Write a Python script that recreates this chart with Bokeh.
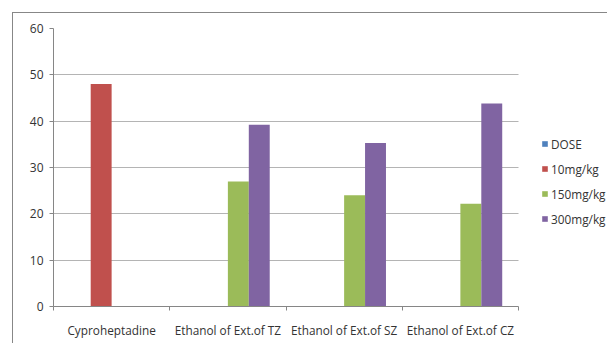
from bokeh.plotting import figure
from bokeh.models import (ColumnDataSource, Range1d, FixedTicker, Legend, LegendItem)
from bokeh.transform import dodge
from bokeh.embed import file_html
from bokeh.resources import INLINE

categories = ["Cyproheptadine", "Ethanol of Ext.of TZ", "Ethanol of Ext.of SZ", "Ethanol of Ext.of CZ"]
series_names = ["DOSE", "10mg/kg", "150mg/kg", "300mg/kg"]
dose = [0, 0, 0, 0]
mg10 = [48, 0, 0, 0]
mg150 = [0, 27.0, 24.0, 22.2]
mg300 = [0, 39.2, 35.3, 43.8]
colors = ["#4F81BD", "#C0504D", "#9BBB59", "#8064A2"]
y_ticks = [0, 10, 20, 30, 40, 50, 60]

n = len(categories)
centers = [i + 0.5 for i in range(n)]
src = ColumnDataSource(dict(x=centers, dose=dose, mg10=mg10, mg150=mg150, mg300=mg300))

# plot area of the categories is 465 px wide; the frame runs on to the right edge
frame_w = 595 - 40
x_end = n * frame_w / 465.0

p = figure(width=595, height=331, output_backend="svg", toolbar_location=None,
           x_range=Range1d(0, x_end), y_range=Range1d(0, 60),
           min_border_left=40, min_border_right=0, min_border_top=15, min_border_bottom=38)
p.styles = {"margin-left": "12px", "margin-top": "12px",
            "border-left": "1px solid #878787", "border-top": "1px solid #878787"}
p.outline_line_color = None
p.background_fill_color = "white"
p.border_fill_color = "white"

w = 0.18
fields = ["dose", "mg10", "mg150", "mg300"]
offsets = [-1.5 * w, -0.5 * w, 0.5 * w, 1.5 * w]
rends = []
for f, off, c in zip(fields, offsets, colors):
    r = p.vbar(x=dodge("x", off, range=p.x_range), top=f, width=w, bottom=0,
               source=src, fill_color=c, line_color=None)
    rends.append(r)

txt = "#333333"

# y axis
ya = p.yaxis[0]
ya.ticker = FixedTicker(ticks=y_ticks)
ya.axis_line_color = "#868686"
ya.major_tick_line_color = "#868686"
ya.major_tick_out = 4
ya.major_tick_in = 0
ya.minor_tick_line_color = None
ya.major_label_text_font = "Open Sans"
ya.major_label_text_font_size = "12px"
ya.major_label_text_color = txt
ya.major_label_standoff = 6

# x axis
xa = p.xaxis[0]
xa.bounds = (0, n)
xa.ticker = FixedTicker(ticks=centers, minor_ticks=list(range(n + 1)))
xa.major_label_overrides = {c: lab for c, lab in zip(centers, categories)}
xa.axis_line_color = "#868686"
xa.major_tick_line_color = None
xa.major_tick_out = 0
xa.major_tick_in = 0
xa.minor_tick_line_color = "#868686"
xa.minor_tick_out = 4
xa.minor_tick_in = 0
xa.major_label_text_font = "Open Sans"
xa.major_label_text_font_size = "11.8px"
xa.major_label_text_color = txt
xa.major_label_standoff = 11

p.xgrid.grid_line_color = None
p.ygrid.grid_line_color = "#B4B4B4"
p.ygrid.ticker = FixedTicker(ticks=y_ticks)
p.ygrid.cross_bounds = (0, n)

legend = Legend(items=[LegendItem(label=s, renderers=[r]) for s, r in zip(series_names, rends)],
                location=(488, 78), glyph_width=7, glyph_height=7, label_height=19,
                spacing=6, padding=0, margin=0, label_standoff=3,
                border_line_color=None, background_fill_alpha=0,
                label_text_font="Open Sans", label_text_font_size="11.8px",
                label_text_color=txt)
p.add_layout(legend, "center")

open("out.html", "w").write(file_html(p, INLINE))
